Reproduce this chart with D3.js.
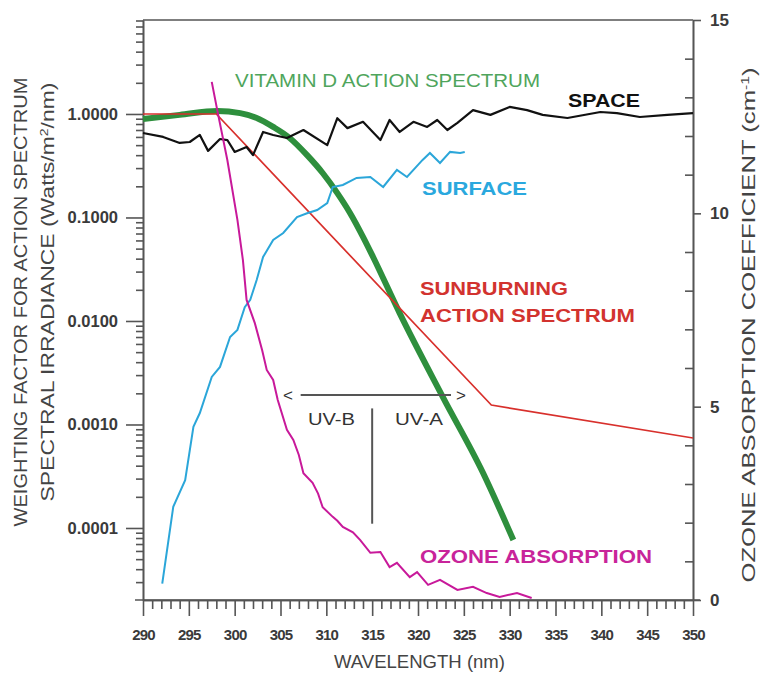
<!DOCTYPE html>
<html>
<head>
<meta charset="utf-8">
<script src="https://cdn.jsdelivr.net/npm/d3@7"></script>
<style>
body { margin: 0; background: #fff; }
svg { font-family: "Liberation Sans", Arial, sans-serif; }
.axis path, .axis line { stroke: #555; stroke-width: 1.6; }
.axis text { fill: #3a3a3a; font-weight: bold; }
</style>
</head>
<body>
<div id="chart"></div>
<script>
// wavelength ticks
var xMajor = [290, 295, 300, 305, 310, 315, 320, 325, 330, 335, 340, 345, 350];
var yMajor = [0.0001, 0.001, 0.01, 0.1, 1];
var yMajorLabels = ["0.0001", "0.0010", "0.0100", "0.1000", "1.0000"];
var ozMajor = [0, 5, 10, 15];

// solar irradiance above the atmosphere
var spaceWl = [290, 292.2, 294, 295.1, 296.2, 297.1, 298.4, 299.2, 300, 301.3, 302, 303.1, 304.2, 305.7, 307.5, 310.1, 311.2, 312.3, 314, 315.9, 316.9, 318, 319.5, 321, 322.1, 323.2, 324.3, 326, 327.9, 330, 331.9, 333.6, 336.3, 339.9, 341.7, 344.2, 347.2, 350];
var spaceVal = [0.655, 0.60, 0.525, 0.536, 0.627, 0.44, 0.573, 0.56, 0.43, 0.48, 0.40, 0.67, 0.627, 0.586, 0.70, 0.50, 0.91, 0.73, 0.84, 0.56, 0.875, 0.67, 0.84, 0.75, 0.875, 0.70, 0.82, 1.09, 0.98, 1.17, 1.09, 0.98, 0.915, 1.045, 1.02, 0.935, 0.98, 1.02];

// irradiance at the surface
var surfWl = [292.1, 293.3, 294.6, 295.5, 296.2, 297.5, 298.4, 299.5, 300.3, 301.1, 301.7, 302.4, 303.1, 304.2, 305.3, 306.8, 307.9, 309, 310.1, 310.7, 311.8, 313.3, 314.8, 316.2, 317.7, 318.8, 320.5, 321.3, 322.4, 323.5, 324.6, 325.1];
var surfVal = [0.000029, 0.00016, 0.00029, 0.00095, 0.00129, 0.00288, 0.0036, 0.0070, 0.0082, 0.0136, 0.016, 0.0249, 0.0415, 0.0607, 0.0708, 0.101, 0.110, 0.118, 0.138, 0.197, 0.206, 0.241, 0.246, 0.197, 0.288, 0.246, 0.36, 0.42, 0.336, 0.43, 0.42, 0.43];

// vitamin D action spectrum
var vitDWl = [290, 294, 298.1, 300.6, 302.4, 304.2, 306, 307.9, 309.6, 311.2, 312.6, 314, 315.1, 318, 322.7, 327.1, 330.4];
var vitDVal = [0.895, 0.98, 1.07, 1.02, 0.915, 0.75, 0.586, 0.40, 0.269, 0.172, 0.110, 0.065, 0.0415, 0.0119, 0.00185, 0.00034, 0.0000766];

// sunburning (erythemal) action spectrum
var sunWl = [290, 298, 328, 350];
var sunVal = [1.0, 1.0, 0.00154, 0.00074];

// ozone absorption coefficient (right axis)
var ozoneWl = [297.5, 298.1, 299.2, 300.3, 300.9, 301.3, 302.2, 303, 303.5, 304.2, 304.7, 305.7, 306.4, 307, 307.5, 308.5, 309.1, 309.6, 310.7, 311.2, 311.8, 312.9, 313.7, 314.8, 315.9, 316.9, 317.7, 319.1, 319.9, 321.1, 322.4, 324.3, 326, 327.5, 328.9, 330.8, 332.4];
var ozoneVal = [13.4, 12.67, 11.38, 9.83, 8.79, 7.76, 7.16, 6.46, 5.95, 5.69, 5.17, 4.40, 4.14, 3.75, 3.28, 3.03, 2.75, 2.40, 2.15, 2.05, 1.89, 1.75, 1.55, 1.22, 1.24, 0.85, 0.96, 0.59, 0.72, 0.39, 0.52, 0.26, 0.34, 0.18, 0.08, 0.18, 0.05];

var W = 763, H = 673;
var margin = {top: 20, right: 70, bottom: 73, left: 143};

var x = d3.scaleLinear().domain([290, 350]).range([143, 693]);
var y = d3.scaleLog().domain([2.015e-5, 8.09]).range([600, 20]);
var yOz = d3.scaleLinear().domain([0, 15]).range([600, 20]);

var svg = d3.select("#chart").append("svg")
    .attr("width", W)
    .attr("height", H);

// minor tick values
var xMinor = d3.range(290, 351, 1).filter(function(d) { return d % 5 !== 0; });
var yMinor = [];
for (var n = -5; n <= 0; n++) {
    for (var k = 2; k <= 9; k++) {
        var v = k * Math.pow(10, n);
        if (v > y.domain()[0] && v < y.domain()[1]) yMinor.push(v);
    }
}
var ozMinor = d3.range(0, 16, 1).filter(function(d) { return d % 5 !== 0; });

// frame: top line
svg.append("line")
    .attr("x1", 143).attr("x2", 693)
    .attr("y1", 20).attr("y2", 20)
    .attr("stroke", "#555").attr("stroke-width", 1.6);

// x axis
svg.append("g")
    .attr("class", "axis")
    .attr("transform", "translate(0,600)")
    .call(d3.axisBottom(x).tickValues(xMinor).tickSize(9).tickSizeOuter(0).tickFormat(""));
var xAx = svg.append("g")
    .attr("class", "axis")
    .attr("transform", "translate(0,600)")
    .call(d3.axisBottom(x).tickValues(xMajor).tickSize(16).tickSizeOuter(0).tickPadding(13));
xAx.selectAll("text").style("font-size", "15px").style("letter-spacing", "-0.8px");
svg.append("line")
    .attr("x1", 135).attr("x2", 700)
    .attr("y1", 600).attr("y2", 600)
    .attr("stroke", "#555").attr("stroke-width", 1.6);

// left axis
svg.append("g")
    .attr("class", "axis")
    .attr("transform", "translate(143,0)")
    .call(d3.axisLeft(y).tickValues(yMinor).tickSize(7).tickSizeOuter(0).tickFormat(""));
var yAx = svg.append("g")
    .attr("class", "axis")
    .attr("transform", "translate(143,0)")
    .call(d3.axisLeft(y).tickValues(yMajor).tickSize(17).tickSizeOuter(0).tickPadding(8)
        .tickFormat(function(d, i) { return yMajorLabels[i]; }));
yAx.selectAll("text").style("font-size", "16.5px");

// right axis (ozone)
svg.append("g")
    .attr("class", "axis")
    .attr("transform", "translate(693,0)")
    .call(d3.axisLeft(yOz).tickValues(ozMinor).tickSize(8).tickSizeOuter(0).tickFormat(""));
var ozAx = svg.append("g")
    .attr("class", "axis")
    .attr("transform", "translate(693,0)")
    .call(d3.axisRight(yOz).tickValues(ozMajor).tickSize(8).tickSizeOuter(0).tickPadding(9));
ozAx.selectAll("text").style("font-size", "17px");

// line generators
function logLine(wl, vals, curve) {
    return d3.line()
        .x(function(d, i) { return x(wl[i]); })
        .y(function(d) { return y(d); })
        .curve(curve || d3.curveLinear)(vals);
}

svg.append("path")
    .attr("d", logLine(vitDWl, vitDVal, d3.curveMonotoneX))
    .attr("fill", "none").attr("stroke", "#2e8f3d").attr("stroke-width", 6);

svg.append("path")
    .attr("d", logLine(sunWl, sunVal))
    .attr("fill", "none").attr("stroke", "#d8302c").attr("stroke-width", 1.7);

svg.append("path")
    .attr("d", logLine(spaceWl, spaceVal))
    .attr("fill", "none").attr("stroke", "#111").attr("stroke-width", 2.2)
    .attr("stroke-linejoin", "round");

svg.append("path")
    .attr("d", logLine(surfWl, surfVal))
    .attr("fill", "none").attr("stroke", "#2ba6d9").attr("stroke-width", 2);

svg.append("path")
    .attr("d", d3.line()
        .x(function(d, i) { return x(ozoneWl[i]); })
        .y(function(d) { return yOz(d); })(ozoneVal))
    .attr("fill", "none").attr("stroke", "#c8199a").attr("stroke-width", 2);

// UV-B / UV-A annotation
svg.append("line")
    .attr("x1", x(307.2)).attr("x2", x(323.6))
    .attr("y1", y(0.00193)).attr("y2", y(0.00193))
    .attr("stroke", "#555").attr("stroke-width", 2);
svg.append("line")
    .attr("x1", x(315)).attr("x2", x(315))
    .attr("y1", y(0.00143)).attr("y2", y(0.00011))
    .attr("stroke", "#555").attr("stroke-width", 2);

function label(txt, px, py, opts) {
    var t = svg.append("text")
        .attr("x", px).attr("y", py)
        .style("font-size", (opts.size || 17) + "px")
        .style("font-weight", opts.bold ? "bold" : "normal")
        .attr("fill", opts.color || "#333")
        .text(txt);
    if (opts.len) t.attr("textLength", opts.len).attr("lengthAdjust", "spacingAndGlyphs");
    if (opts.anchor) t.attr("text-anchor", opts.anchor);
    return t;
}

label("<", 283, 401, {size: 17, color: "#333"});
label(">", 456, 401, {size: 17, color: "#333"});
label("UV-B", 308, 425, {size: 17, color: "#333", len: 47});
label("UV-A", 395, 425, {size: 17, color: "#333", len: 48});

label("VITAMIN D ACTION SPECTRUM", 235, 87, {size: 18, color: "#4fa55c", len: 305});
label("SPACE", 568, 107, {size: 19, bold: true, color: "#111", len: 72});
label("SURFACE", 422, 195, {size: 19, bold: true, color: "#2aa8de", len: 105});
label("SUNBURNING", 420, 295, {size: 19, bold: true, color: "#d2332f", len: 148});
label("ACTION SPECTRUM", 420, 322, {size: 19, bold: true, color: "#d2332f", len: 215});
label("OZONE ABSORPTION", 420, 563, {size: 19, bold: true, color: "#c8249a", len: 232});

// axis titles
label("WAVELENGTH (nm)", 334, 668, {size: 18, color: "#444", len: 171});

var t1 = svg.append("text")
    .attr("transform", "translate(27,302) rotate(-90)")
    .attr("text-anchor", "middle")
    .attr("textLength", 449).attr("lengthAdjust", "spacingAndGlyphs")
    .style("font-size", "18px").attr("fill", "#444")
    .text("WEIGHTING FACTOR FOR ACTION SPECTRUM");

var t2 = svg.append("text")
    .attr("transform", "translate(54,292) rotate(-90)")
    .attr("text-anchor", "middle")
    .attr("textLength", 419).attr("lengthAdjust", "spacingAndGlyphs")
    .style("font-size", "18px").attr("fill", "#444");
t2.append("tspan").text("SPECTRAL IRRADIANCE (Watts/m");
t2.append("tspan").attr("baseline-shift", "super").style("font-size", "11px").text("2");
t2.append("tspan").text("/nm)");

var t3 = svg.append("text")
    .attr("transform", "translate(755,325) rotate(-90)")
    .attr("text-anchor", "middle")
    .attr("textLength", 515).attr("lengthAdjust", "spacingAndGlyphs")
    .style("font-size", "18px").attr("fill", "#444");
t3.append("tspan").text("OZONE ABSORPTION COEFFICIENT (cm");
t3.append("tspan").attr("baseline-shift", "super").style("font-size", "11px").text("-1");
t3.append("tspan").text(")");
</script>
</body>
</html>
